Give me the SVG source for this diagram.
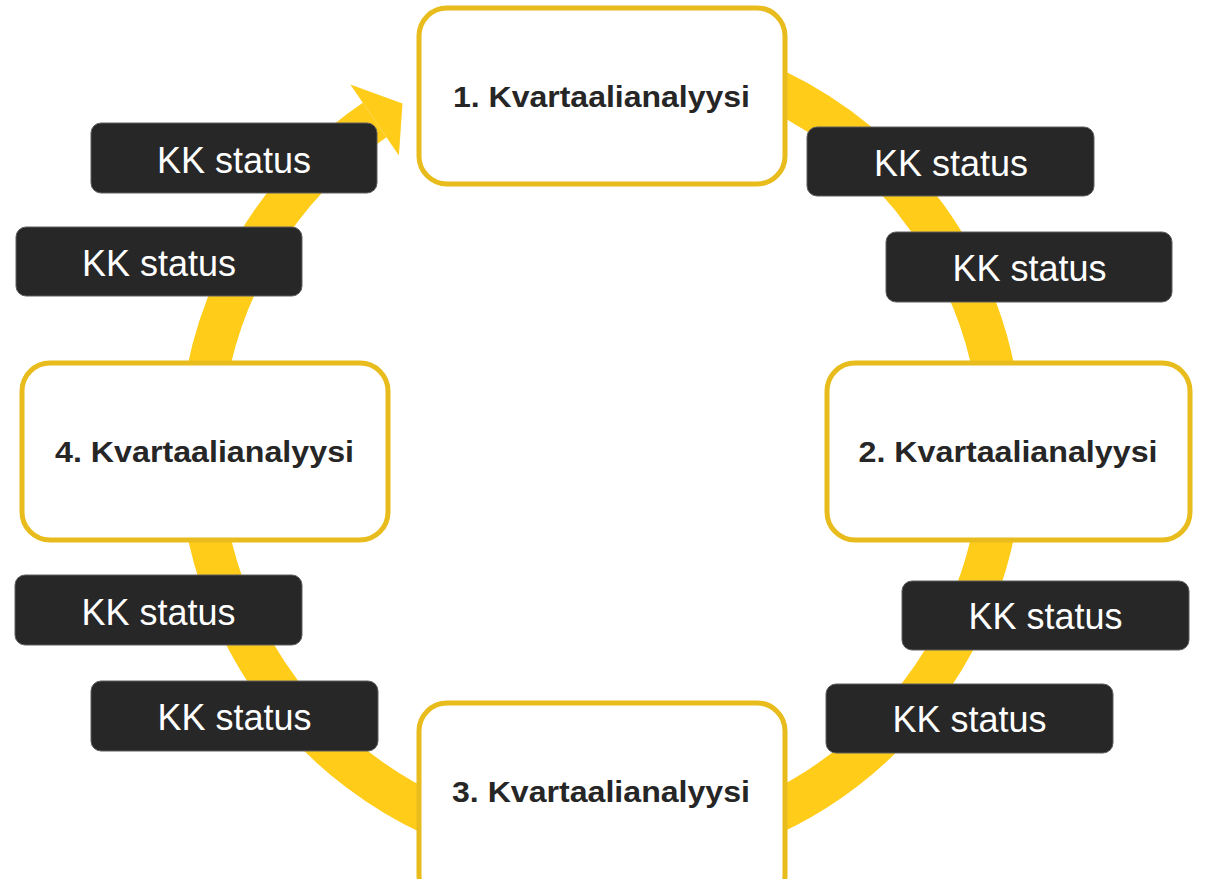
<svg xmlns="http://www.w3.org/2000/svg" width="1205" height="879" viewBox="0 0 1205 879">
<style>
.ring{fill:none;stroke:#FFCC1A;stroke-width:42}
.head{fill:#FFCC1A}
.phase rect{fill:#FFFFFF;stroke:#E8BC1C;stroke-width:5}
.phase text{font-family:"Liberation Sans",Arial,sans-serif;font-weight:bold;font-size:29px;fill:#262626;text-anchor:middle}
.kk rect{fill:#272727;stroke:#5e5e5e;stroke-width:1}
.kk text{font-family:"Liberation Sans",Arial,sans-serif;font-size:36px;fill:#FFFFFF;text-anchor:middle}
</style>
<rect width="1205" height="879" fill="#FFFFFF"/>
<g id="connectors">
<path class="ring" d="M 601 50 A 401 401 0 1 1 374.6 120"/>
<polygon class="head" points="350.3,84.5 402.5,103.5 398.9,155.5"/>
</g>
<g id="node-q1" class="phase">
<rect x="419" y="8" width="366" height="176" rx="28"/>
<text x="601.5" y="107" textLength="297" lengthAdjust="spacingAndGlyphs">1. Kvartaalianalyysi</text>
</g>
<g id="node-q2" class="phase">
<rect x="827" y="363" width="363" height="177" rx="28"/>
<text x="1008" y="462" textLength="299" lengthAdjust="spacingAndGlyphs">2. Kvartaalianalyysi</text>
</g>
<g id="node-q3" class="phase">
<rect x="419" y="703" width="366" height="200" rx="28"/>
<text x="601" y="802" textLength="298" lengthAdjust="spacingAndGlyphs">3. Kvartaalianalyysi</text>
</g>
<g id="node-q4" class="phase">
<rect x="22" y="363" width="366" height="177" rx="28"/>
<text x="204.5" y="462" textLength="299" lengthAdjust="spacingAndGlyphs">4. Kvartaalianalyysi</text>
</g>
<g id="kk-1" class="kk">
<rect x="91" y="123" width="286" height="70" rx="10"/>
<text x="234" y="173">KK status</text>
</g>
<g id="kk-2" class="kk">
<rect x="16" y="227" width="286" height="69" rx="10"/>
<text x="159" y="276">KK status</text>
</g>
<g id="kk-3" class="kk">
<rect x="807" y="127" width="287" height="69" rx="10"/>
<text x="951" y="176">KK status</text>
</g>
<g id="kk-4" class="kk">
<rect x="886" y="232" width="286" height="70" rx="10"/>
<text x="1029.5" y="281">KK status</text>
</g>
<g id="kk-5" class="kk">
<rect x="902" y="581" width="287" height="69" rx="10"/>
<text x="1045.5" y="629">KK status</text>
</g>
<g id="kk-6" class="kk">
<rect x="826" y="684" width="287" height="69" rx="10"/>
<text x="969.5" y="732">KK status</text>
</g>
<g id="kk-7" class="kk">
<rect x="15" y="575" width="287" height="70" rx="10"/>
<text x="158.5" y="625">KK status</text>
</g>
<g id="kk-8" class="kk">
<rect x="91" y="681" width="287" height="70" rx="10"/>
<text x="234.5" y="730">KK status</text>
</g>
</svg>
